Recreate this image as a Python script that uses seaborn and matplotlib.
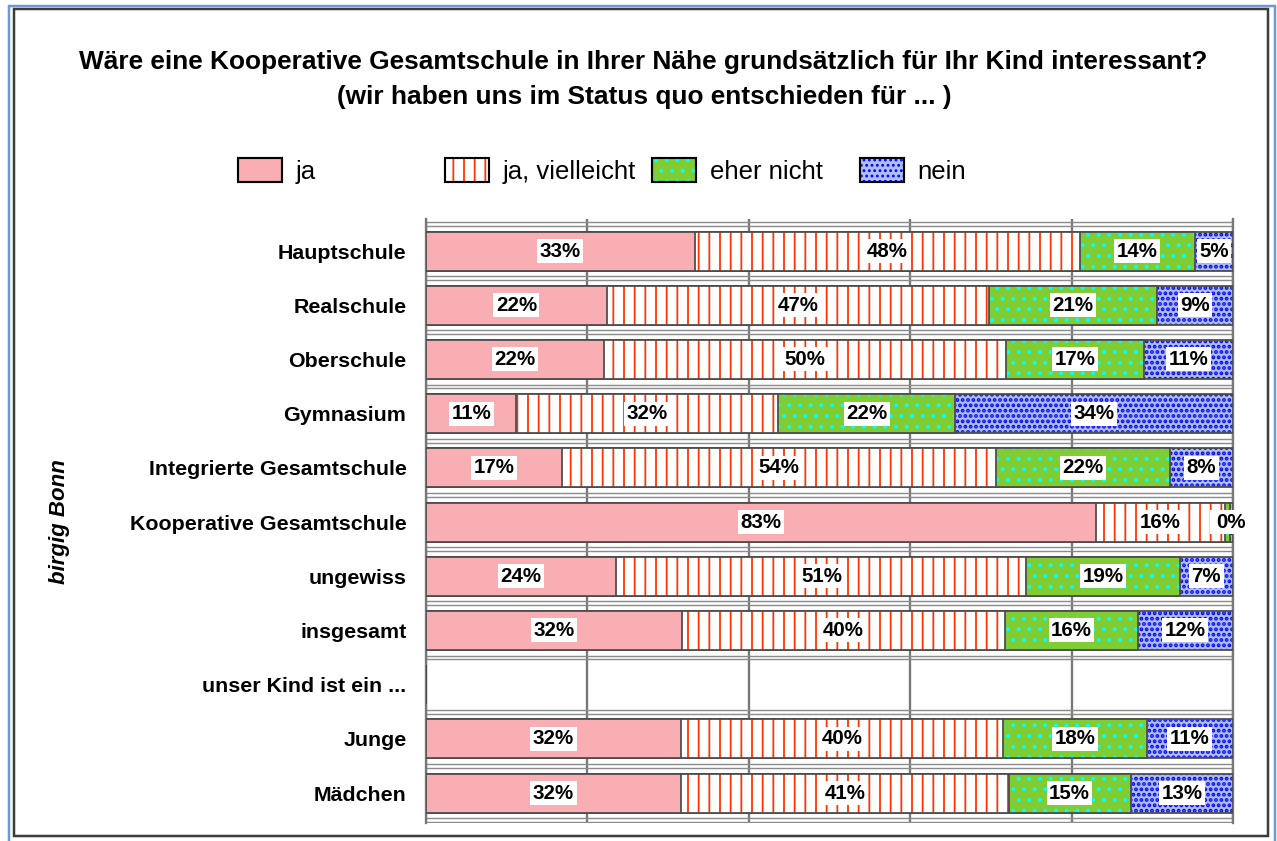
import matplotlib
matplotlib.use("Agg")
import matplotlib.pyplot as plt
import matplotlib.patches as mpatches
from matplotlib.colors import to_rgba
import numpy as np
import pandas as pd
import seaborn as sns

# Werte in Prozent (Zeile "unser Kind ist ein ..." ist leer)
categories = ["Hauptschule", "Realschule", "Oberschule", "Gymnasium",
              "Integrierte Gesamtschule", "Kooperative Gesamtschule", "ungewiss",
              "insgesamt", "unser Kind ist ein ...", "Junge", "Mädchen"]
ja = [33.3, 22.4, 22.1, 11.2, 16.8, 83.0, 23.6, 31.7, 0, 31.6, 31.6]
ja_vielleicht = [47.7, 47.4, 49.8, 32.4, 53.8, 16.0, 50.8, 40.1, 0, 39.9, 40.6]
eher_nicht = [14.3, 20.8, 17.1, 22.0, 21.6, 0.6, 19.0, 16.4, 0, 17.8, 15.1]
nein = [4.7, 9.4, 11.0, 34.4, 7.8, 0.4, 6.6, 11.8, 0, 10.7, 12.7]
series_names = ["ja", "ja, vielleicht", "eher nicht", "nein"]

title_1 = "Wäre eine Kooperative Gesamtschule in Ihrer Nähe grundsätzlich für Ihr Kind interessant?"
title_2 = "(wir haben uns im Status quo entschieden für ... )"
side_label = "birgig Bonn"

STYLES = {
    "ja": dict(color="#F8AEB2", hatch=None, hatch_color=None, hatch_lw=1.0),
    "ja, vielleicht": dict(color="white", hatch="||", hatch_color="#FF3300", hatch_lw=1.0),
    "eher nicht": dict(color="#7FCC33", hatch="..", hatch_color="#00FFFF", hatch_lw=1.0),
    "nein": dict(color="#AFBFEF", hatch="....", hatch_color="#0000FF", hatch_lw=1.5),
}
EDGE = "#4d4d4d"
W, H, DPI = 1277, 841, 128


def style_hatch(patch, st):
    if not st["hatch"]:
        return
    patch._hatch_color = to_rgba(st["hatch_color"])
    if hasattr(patch, "set_hatch_linewidth"):
        patch.set_hatch_linewidth(st["hatch_lw"])


sns.set_style("white")
plt.rcParams["font.family"] = ["Liberation Sans", "DejaVu Sans"]
plt.rcParams["text.color"] = "black"
plt.rcParams["ytick.color"] = "black"
plt.rcParams["hatch.linewidth"] = 1.0

df = pd.DataFrame({"category": categories, "ja": ja, "ja, vielleicht": ja_vielleicht,
                   "eher nicht": eher_nicht, "nein": nein})
cum = df[series_names].cumsum(axis=1)
cum["category"] = categories

fig = plt.figure(figsize=(W / DPI, H / DPI), dpi=DPI)
ax = fig.add_axes([426 / W, 1 - 823.4 / H, (1233 - 426) / W, 604.9 / H])

# stacked bars: draw cumulative totals from the right-most series backwards
for name in reversed(series_names):
    st = STYLES[name]
    sns.barplot(data=cum, x=name, y="category", order=categories, orient="h",
                color=st["color"], saturation=1, width=0.72, errorbar=None,
                edgecolor=EDGE, linewidth=1.0, hatch=st["hatch"], zorder=3, ax=ax)
    for p in ax.containers[-1]:
        style_hatch(p, st)

# percentage labels on white boxes
for name in series_names:
    for i, (v, end) in enumerate(zip(df[name], cum[name])):
        if v <= 0:
            continue
        ax.text(end - v / 2, i, f"{v:.0f}%", ha="center", va="center", fontsize=11.5,
                fontweight="bold", color="black", zorder=6,
                bbox=dict(boxstyle="square,pad=0.12", fc="white", ec="none"))

ax.set_xlim(0, 100)
ax.set_ylim(10.56, -0.6)
ax.set_xticks(range(0, 101, 20))
ax.xaxis.grid(True, color="#777777", lw=1.3)
ax.set_axisbelow(True)
ax.tick_params(axis="x", length=0, labelbottom=False)
ax.tick_params(axis="y", length=0, pad=11, labelcolor="black")
for lab in ax.get_yticklabels():
    lab.set_fontsize(12)
    lab.set_fontweight("bold")
ax.set_xlabel("")
ax.set_ylabel("")
for side in ["top", "bottom"]:
    ax.spines[side].set_visible(False)
for side in ["left", "right"]:
    ax.spines[side].set_color("#777777")
    ax.spines[side].set_linewidth(1.3)

# double separator lines between the rows
for b in np.arange(len(categories) + 1) - 0.5:
    for off in (-0.035, 0.035):
        ax.axhline(b + off, color="#8c8c8c", lw=0.8, zorder=1)

# titles and side label
fig.text(643 / W, 1 - 62 / H, title_1, ha="center", va="center", fontsize=14.8, fontweight="bold")
fig.text(644 / W, 1 - 97 / H, title_2, ha="center", va="center", fontsize=14.8, fontweight="bold")
fig.text(60 / W, 1 - 522 / H, side_label, rotation=90, ha="center", va="center",
         fontsize=12.5, fontweight="bold", style="italic")

# legend, one entry per fixed slot like in the original
legend_x = [238, 445, 652, 860]
for name, x in zip(series_names, legend_x):
    st = STYLES[name]
    h = mpatches.Patch(facecolor=st["color"], edgecolor="black", lw=1.2, hatch=st["hatch"])
    style_hatch(h, st)
    fig.legend(handles=[h], labels=[name], loc="center left", bbox_to_anchor=(x / W, 1 - 171 / H),
               frameon=False, borderpad=0, borderaxespad=0, handlelength=1.69,
               handleheight=1.08, handletextpad=0.55, fontsize=14.5)

# frame around the whole picture
fig.add_artist(mpatches.Rectangle((8.5 / W, 1 - 850 / H), (1275 - 8.5) / W, (850 - 6) / H,
                                  transform=fig.transFigure, fill=False, ec="#6A9BD8", lw=1.4))
fig.add_artist(mpatches.Rectangle((14.5 / W, 1 - 836 / H), (1268 - 14.5) / W, (836 - 9) / H,
                                  transform=fig.transFigure, fill=False, ec="#3c3c3c", lw=1.4))

fig.savefig("out.png", dpi=DPI)
